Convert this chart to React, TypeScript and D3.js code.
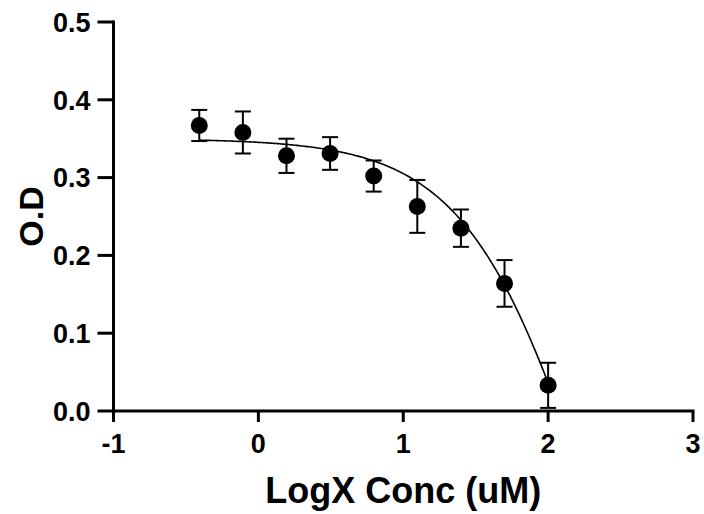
import React from "react";
import * as d3 from "d3";

// Data (log10 concentration, mean O.D, error)
const logConc = [-0.408, -0.107, 0.194, 0.495, 0.796, 1.097, 1.398, 1.699, 2.0];
const odMean = [0.367, 0.358, 0.328, 0.331, 0.302, 0.263, 0.235, 0.164, 0.033];
const odErr = [0.020, 0.027, 0.022, 0.021, 0.020, 0.034, 0.024, 0.030, 0.029];

const xTicks = [-1, 0, 1, 2, 3];
const yTicks = [0.0, 0.1, 0.2, 0.3, 0.4, 0.5];

// Four-parameter logistic fit parameters
const fitTop = 0.35;
const fitBottom = -0.59;
const fitLogIC50 = 2.3;
const fitHill = 1.0;

const W = 704;
const H = 514;

export default function App() {
  const x = d3.scaleLinear().domain([-1, 3]).range([113.5, 693]);
  const y = d3.scaleLinear().domain([0, 0.5]).range([411, 22]);

  const fit = (v: number) =>
    fitBottom + (fitTop - fitBottom) / (1 + Math.pow(10, (v - fitLogIC50) * fitHill));
  const x0 = d3.min(logConc)!;
  const x1 = d3.max(logConc)!;
  const curvePts = d3.range(0, 201).map((i) => {
    const v = x0 + ((x1 - x0) * i) / 200;
    return [v, fit(v)] as [number, number];
  });
  const line = d3
    .line<[number, number]>()
    .x((d) => x(d[0]))
    .y((d) => y(d[1]))
    .curve(d3.curveLinear);

  const font = "'Liberation Sans', Arial, sans-serif";
  const capW = 8;

  return (
    <svg
      width={W}
      height={H}
      style={{ position: "absolute", left: 0, top: 0, background: "#fff" }}
    >
      <rect x={0} y={0} width={W} height={H} fill="#fff" />
      {/* fit curve */}
      <path d={line(curvePts) || ""} fill="none" stroke="#000" strokeWidth={1.6} />
      {/* error bars */}
      {logConc.map((c, i) => {
        const cx = x(c);
        const yt = y(odMean[i] + odErr[i]);
        const yb = y(odMean[i] - odErr[i]);
        return (
          <g key={"e" + i} stroke="#000" strokeWidth={2}>
            <line x1={cx} x2={cx} y1={yt} y2={yb} />
            <line x1={cx - capW} x2={cx + capW} y1={yt} y2={yt} />
            <line x1={cx - capW} x2={cx + capW} y1={yb} y2={yb} />
          </g>
        );
      })}
      {/* points */}
      {logConc.map((c, i) => (
        <circle key={"p" + i} cx={x(c)} cy={y(odMean[i])} r={8.5} fill="#000" />
      ))}
      {/* axes */}
      <g stroke="#000" strokeWidth={3}>
        <line x1={x(-1)} x2={x(-1)} y1={y(0.5) - 1.5} y2={y(0) + 1.5} />
        <line x1={x(-1) - 1.5} x2={x(3) + 1.5} y1={y(0)} y2={y(0)} />
        {yTicks.map((t) => (
          <line key={"yt" + t} x1={x(-1) - 16} x2={x(-1)} y1={y(t)} y2={y(t)} />
        ))}
        {xTicks.map((t) => (
          <line key={"xt" + t} x1={x(t)} x2={x(t)} y1={y(0)} y2={y(0) + 11} />
        ))}
      </g>
      {yTicks.map((t) => (
        <text
          key={"yl" + t}
          x={x(-1) - 23}
          y={y(t)}
          dy="0.36em"
          textAnchor="end"
          fontFamily={font}
          fontWeight="bold"
          fontSize={27}
          fill="#000"
        >
          {d3.format(".1f")(t)}
        </text>
      ))}
      {xTicks.map((t) => (
        <text
          key={"xl" + t}
          x={x(t)}
          y={y(0) + 42}
          textAnchor="middle"
          fontFamily={font}
          fontWeight="bold"
          fontSize={27}
          fill="#000"
        >
          {t}
        </text>
      ))}
      <text
        x={(x(-1) + x(3)) / 2}
        y={503}
        textAnchor="middle"
        fontFamily={font}
        fontWeight="bold"
        fontSize={36}
        fill="#000"
      >
        LogX Conc (uM)
      </text>
      <text
        transform={`translate(43, ${(y(0) + y(0.5)) / 2}) rotate(-90)`}
        textAnchor="middle"
        fontFamily={font}
        fontWeight="bold"
        fontSize={34}
        fill="#000"
      >
        O.D
      </text>
    </svg>
  );
}
